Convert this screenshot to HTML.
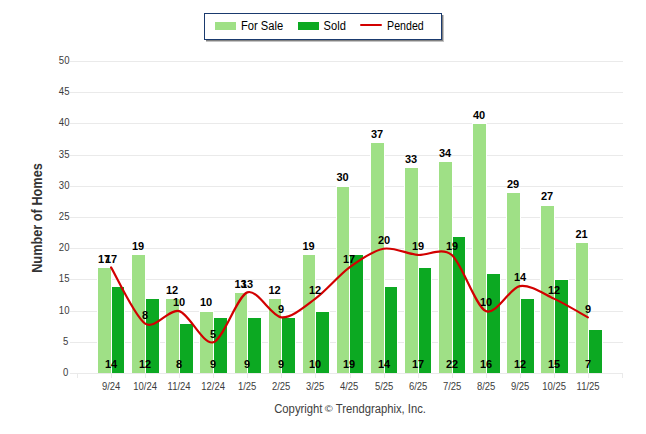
<!DOCTYPE html><html><head><meta charset="utf-8"><style>html,body{margin:0;padding:0;background:#fff;}svg{display:block;}text{font-family:"Liberation Sans",sans-serif;}</style></head><body>
<svg width="646" height="434" viewBox="0 0 646 434">
<rect x="0" y="0" width="646" height="434" fill="#fff"/>
<g shape-rendering="crispEdges"><rect x="70" y="373" width="553" height="1" fill="#eaeaea"/><rect x="70" y="342" width="553" height="1" fill="#eaeaea"/><rect x="70" y="311" width="553" height="1" fill="#eaeaea"/><rect x="70" y="279" width="553" height="1" fill="#eaeaea"/><rect x="70" y="248" width="553" height="1" fill="#eaeaea"/><rect x="70" y="217" width="553" height="1" fill="#eaeaea"/><rect x="70" y="186" width="553" height="1" fill="#eaeaea"/><rect x="70" y="155" width="553" height="1" fill="#eaeaea"/><rect x="70" y="123" width="553" height="1" fill="#eaeaea"/><rect x="70" y="92" width="553" height="1" fill="#eaeaea"/><rect x="70" y="61" width="553" height="1" fill="#eaeaea"/><rect x="77" y="373" width="1" height="5" fill="#eaeaea"/><rect x="111" y="373" width="1" height="5" fill="#eaeaea"/><rect x="145" y="373" width="1" height="5" fill="#eaeaea"/><rect x="179" y="373" width="1" height="5" fill="#eaeaea"/><rect x="213" y="373" width="1" height="5" fill="#eaeaea"/><rect x="247" y="373" width="1" height="5" fill="#eaeaea"/><rect x="281" y="373" width="1" height="5" fill="#eaeaea"/><rect x="315" y="373" width="1" height="5" fill="#eaeaea"/><rect x="350" y="373" width="1" height="5" fill="#eaeaea"/><rect x="384" y="373" width="1" height="5" fill="#eaeaea"/><rect x="418" y="373" width="1" height="5" fill="#eaeaea"/><rect x="452" y="373" width="1" height="5" fill="#eaeaea"/><rect x="486" y="373" width="1" height="5" fill="#eaeaea"/><rect x="520" y="373" width="1" height="5" fill="#eaeaea"/><rect x="554" y="373" width="1" height="5" fill="#eaeaea"/><rect x="588" y="373" width="1" height="5" fill="#eaeaea"/><rect x="622" y="373" width="1" height="5" fill="#eaeaea"/></g>
<text x="68.3" y="376" text-anchor="end" font-size="11" textLength="5.32" lengthAdjust="spacingAndGlyphs" fill="#3c3c3c">0</text><text x="68.3" y="345" text-anchor="end" font-size="11" textLength="5.32" lengthAdjust="spacingAndGlyphs" fill="#3c3c3c">5</text><text x="69.5" y="314" text-anchor="end" font-size="11" textLength="10.64" lengthAdjust="spacingAndGlyphs" fill="#3c3c3c">10</text><text x="69.5" y="282" text-anchor="end" font-size="11" textLength="10.64" lengthAdjust="spacingAndGlyphs" fill="#3c3c3c">15</text><text x="69.5" y="251" text-anchor="end" font-size="11" textLength="10.64" lengthAdjust="spacingAndGlyphs" fill="#3c3c3c">20</text><text x="69.5" y="220" text-anchor="end" font-size="11" textLength="10.64" lengthAdjust="spacingAndGlyphs" fill="#3c3c3c">25</text><text x="69.5" y="189" text-anchor="end" font-size="11" textLength="10.64" lengthAdjust="spacingAndGlyphs" fill="#3c3c3c">30</text><text x="69.5" y="158" text-anchor="end" font-size="11" textLength="10.64" lengthAdjust="spacingAndGlyphs" fill="#3c3c3c">35</text><text x="69.5" y="126" text-anchor="end" font-size="11" textLength="10.64" lengthAdjust="spacingAndGlyphs" fill="#3c3c3c">40</text><text x="69.5" y="95" text-anchor="end" font-size="11" textLength="10.64" lengthAdjust="spacingAndGlyphs" fill="#3c3c3c">45</text><text x="69.5" y="64" text-anchor="end" font-size="11" textLength="10.64" lengthAdjust="spacingAndGlyphs" fill="#3c3c3c">50</text>
<g shape-rendering="crispEdges"><rect x="97" y="267" width="15" height="106" fill="#fff"/><rect x="98" y="268" width="13" height="105" fill="#9fe086"/><rect x="111" y="286" width="14" height="87" fill="#fff"/><rect x="112" y="287" width="12" height="86" fill="#0ca922"/><rect x="131" y="254" width="15" height="119" fill="#fff"/><rect x="132" y="255" width="13" height="118" fill="#9fe086"/><rect x="145" y="298" width="15" height="75" fill="#fff"/><rect x="146" y="299" width="13" height="74" fill="#0ca922"/><rect x="165" y="298" width="15" height="75" fill="#fff"/><rect x="166" y="299" width="13" height="74" fill="#9fe086"/><rect x="179" y="323" width="15" height="50" fill="#fff"/><rect x="180" y="324" width="13" height="49" fill="#0ca922"/><rect x="199" y="311" width="15" height="62" fill="#fff"/><rect x="200" y="312" width="13" height="61" fill="#9fe086"/><rect x="213" y="317" width="15" height="56" fill="#fff"/><rect x="214" y="318" width="13" height="55" fill="#0ca922"/><rect x="234" y="292" width="14" height="81" fill="#fff"/><rect x="235" y="293" width="12" height="80" fill="#9fe086"/><rect x="247" y="317" width="15" height="56" fill="#fff"/><rect x="248" y="318" width="13" height="55" fill="#0ca922"/><rect x="268" y="298" width="14" height="75" fill="#fff"/><rect x="269" y="299" width="12" height="74" fill="#9fe086"/><rect x="281" y="317" width="15" height="56" fill="#fff"/><rect x="282" y="318" width="13" height="55" fill="#0ca922"/><rect x="302" y="254" width="14" height="119" fill="#fff"/><rect x="303" y="255" width="12" height="118" fill="#9fe086"/><rect x="315" y="311" width="15" height="62" fill="#fff"/><rect x="316" y="312" width="13" height="61" fill="#0ca922"/><rect x="336" y="186" width="14" height="187" fill="#fff"/><rect x="337" y="187" width="12" height="186" fill="#9fe086"/><rect x="349" y="254" width="15" height="119" fill="#fff"/><rect x="350" y="255" width="13" height="118" fill="#0ca922"/><rect x="370" y="142" width="15" height="231" fill="#fff"/><rect x="371" y="143" width="13" height="230" fill="#9fe086"/><rect x="384" y="286" width="14" height="87" fill="#fff"/><rect x="385" y="287" width="12" height="86" fill="#0ca922"/><rect x="404" y="167" width="15" height="206" fill="#fff"/><rect x="405" y="168" width="13" height="205" fill="#9fe086"/><rect x="418" y="267" width="14" height="106" fill="#fff"/><rect x="419" y="268" width="12" height="105" fill="#0ca922"/><rect x="438" y="161" width="15" height="212" fill="#fff"/><rect x="439" y="162" width="13" height="211" fill="#9fe086"/><rect x="452" y="236" width="14" height="137" fill="#fff"/><rect x="453" y="237" width="12" height="136" fill="#0ca922"/><rect x="472" y="123" width="15" height="250" fill="#fff"/><rect x="473" y="124" width="13" height="249" fill="#9fe086"/><rect x="486" y="273" width="15" height="100" fill="#fff"/><rect x="487" y="274" width="13" height="99" fill="#0ca922"/><rect x="506" y="192" width="15" height="181" fill="#fff"/><rect x="507" y="193" width="13" height="180" fill="#9fe086"/><rect x="520" y="298" width="15" height="75" fill="#fff"/><rect x="521" y="299" width="13" height="74" fill="#0ca922"/><rect x="540" y="205" width="15" height="168" fill="#fff"/><rect x="541" y="206" width="13" height="167" fill="#9fe086"/><rect x="554" y="279" width="15" height="94" fill="#fff"/><rect x="555" y="280" width="13" height="93" fill="#0ca922"/><rect x="575" y="242" width="14" height="131" fill="#fff"/><rect x="576" y="243" width="12" height="130" fill="#9fe086"/><rect x="588" y="329" width="15" height="44" fill="#fff"/><rect x="589" y="330" width="13" height="43" fill="#0ca922"/></g>
<path d="M111.06,267.42 C116.17,275.84 134.91,317.03 145.12,323.58 C155.34,330.13 168.97,308.29 179.19,311.10 C189.41,313.91 203.03,345.11 213.25,342.30 C223.47,339.49 237.09,296.12 247.31,292.38 C257.53,288.64 271.16,316.40 281.38,317.34 C291.59,318.28 305.22,306.11 315.44,298.62 C325.66,291.13 339.28,274.91 349.50,267.42 C359.72,259.93 373.34,250.57 383.56,248.70 C393.78,246.83 407.41,254.00 417.62,254.94 C427.84,255.88 441.47,246.52 451.69,254.94 C461.91,263.36 475.53,306.42 485.75,311.10 C495.97,315.78 509.59,288.01 519.81,286.14 C530.03,284.27 543.66,293.94 553.88,298.62 C564.09,303.30 582.83,314.53 587.94,317.34" fill="none" stroke="#d20000" stroke-width="2.15" stroke-linejoin="round" stroke-linecap="round"/>
<text x="111.1" y="389.5" text-anchor="middle" font-size="11" textLength="18.41" lengthAdjust="spacingAndGlyphs" fill="#3c3c3c">9/24</text><text x="145.1" y="389.5" text-anchor="middle" font-size="11" textLength="23.67" lengthAdjust="spacingAndGlyphs" fill="#3c3c3c">10/24</text><text x="179.1" y="389.5" text-anchor="middle" font-size="11" textLength="22.97" lengthAdjust="spacingAndGlyphs" fill="#3c3c3c">11/24</text><text x="213.1" y="389.5" text-anchor="middle" font-size="11" textLength="23.67" lengthAdjust="spacingAndGlyphs" fill="#3c3c3c">12/24</text><text x="247.1" y="389.5" text-anchor="middle" font-size="11" textLength="18.41" lengthAdjust="spacingAndGlyphs" fill="#3c3c3c">1/25</text><text x="281.1" y="389.5" text-anchor="middle" font-size="11" textLength="18.41" lengthAdjust="spacingAndGlyphs" fill="#3c3c3c">2/25</text><text x="315.1" y="389.5" text-anchor="middle" font-size="11" textLength="18.41" lengthAdjust="spacingAndGlyphs" fill="#3c3c3c">3/25</text><text x="349.1" y="389.5" text-anchor="middle" font-size="11" textLength="18.41" lengthAdjust="spacingAndGlyphs" fill="#3c3c3c">4/25</text><text x="384.1" y="389.5" text-anchor="middle" font-size="11" textLength="18.41" lengthAdjust="spacingAndGlyphs" fill="#3c3c3c">5/25</text><text x="418.1" y="389.5" text-anchor="middle" font-size="11" textLength="18.41" lengthAdjust="spacingAndGlyphs" fill="#3c3c3c">6/25</text><text x="452.1" y="389.5" text-anchor="middle" font-size="11" textLength="18.41" lengthAdjust="spacingAndGlyphs" fill="#3c3c3c">7/25</text><text x="486.1" y="389.5" text-anchor="middle" font-size="11" textLength="18.41" lengthAdjust="spacingAndGlyphs" fill="#3c3c3c">8/25</text><text x="520.1" y="389.5" text-anchor="middle" font-size="11" textLength="18.41" lengthAdjust="spacingAndGlyphs" fill="#3c3c3c">9/25</text><text x="554.1" y="389.5" text-anchor="middle" font-size="11" textLength="23.67" lengthAdjust="spacingAndGlyphs" fill="#3c3c3c">10/25</text><text x="588.1" y="389.5" text-anchor="middle" font-size="11" textLength="22.97" lengthAdjust="spacingAndGlyphs" fill="#3c3c3c">11/25</text>
<text x="104.0" y="263" text-anchor="middle" font-size="11" font-weight="bold" fill="#000000">17</text><text x="111.1" y="367.5" text-anchor="middle" font-size="11" font-weight="bold" fill="#000000">14</text><text x="111.1" y="263" text-anchor="middle" font-size="11" font-weight="bold" fill="#000000">17</text><text x="138.0" y="250" text-anchor="middle" font-size="11" font-weight="bold" fill="#000000">19</text><text x="145.1" y="367.5" text-anchor="middle" font-size="11" font-weight="bold" fill="#000000">12</text><text x="145.1" y="319" text-anchor="middle" font-size="11" font-weight="bold" fill="#000000">8</text><text x="172.0" y="294" text-anchor="middle" font-size="11" font-weight="bold" fill="#000000">12</text><text x="179.1" y="367.5" text-anchor="middle" font-size="11" font-weight="bold" fill="#000000">8</text><text x="179.1" y="306" text-anchor="middle" font-size="11" font-weight="bold" fill="#000000">10</text><text x="206.0" y="306" text-anchor="middle" font-size="11" font-weight="bold" fill="#000000">10</text><text x="213.1" y="367.5" text-anchor="middle" font-size="11" font-weight="bold" fill="#000000">9</text><text x="213.1" y="338" text-anchor="middle" font-size="11" font-weight="bold" fill="#000000">5</text><text x="240.5" y="288" text-anchor="middle" font-size="11" font-weight="bold" fill="#000000">13</text><text x="247.1" y="367.5" text-anchor="middle" font-size="11" font-weight="bold" fill="#000000">9</text><text x="247.1" y="288" text-anchor="middle" font-size="11" font-weight="bold" fill="#000000">13</text><text x="274.5" y="294" text-anchor="middle" font-size="11" font-weight="bold" fill="#000000">12</text><text x="281.1" y="367.5" text-anchor="middle" font-size="11" font-weight="bold" fill="#000000">9</text><text x="281.1" y="313" text-anchor="middle" font-size="11" font-weight="bold" fill="#000000">9</text><text x="308.5" y="250" text-anchor="middle" font-size="11" font-weight="bold" fill="#000000">19</text><text x="315.1" y="367.5" text-anchor="middle" font-size="11" font-weight="bold" fill="#000000">10</text><text x="315.1" y="294" text-anchor="middle" font-size="11" font-weight="bold" fill="#000000">12</text><text x="342.5" y="181" text-anchor="middle" font-size="11" font-weight="bold" fill="#000000">30</text><text x="349.1" y="367.5" text-anchor="middle" font-size="11" font-weight="bold" fill="#000000">19</text><text x="349.1" y="263" text-anchor="middle" font-size="11" font-weight="bold" fill="#000000">17</text><text x="377.0" y="138" text-anchor="middle" font-size="11" font-weight="bold" fill="#000000">37</text><text x="384.1" y="367.5" text-anchor="middle" font-size="11" font-weight="bold" fill="#000000">14</text><text x="384.1" y="244" text-anchor="middle" font-size="11" font-weight="bold" fill="#000000">20</text><text x="411.0" y="163" text-anchor="middle" font-size="11" font-weight="bold" fill="#000000">33</text><text x="418.1" y="367.5" text-anchor="middle" font-size="11" font-weight="bold" fill="#000000">17</text><text x="418.1" y="250" text-anchor="middle" font-size="11" font-weight="bold" fill="#000000">19</text><text x="445.0" y="157" text-anchor="middle" font-size="11" font-weight="bold" fill="#000000">34</text><text x="452.1" y="367.5" text-anchor="middle" font-size="11" font-weight="bold" fill="#000000">22</text><text x="452.1" y="250" text-anchor="middle" font-size="11" font-weight="bold" fill="#000000">19</text><text x="479.0" y="119" text-anchor="middle" font-size="11" font-weight="bold" fill="#000000">40</text><text x="486.1" y="367.5" text-anchor="middle" font-size="11" font-weight="bold" fill="#000000">16</text><text x="486.1" y="306" text-anchor="middle" font-size="11" font-weight="bold" fill="#000000">10</text><text x="513.0" y="188" text-anchor="middle" font-size="11" font-weight="bold" fill="#000000">29</text><text x="520.1" y="367.5" text-anchor="middle" font-size="11" font-weight="bold" fill="#000000">12</text><text x="520.1" y="281" text-anchor="middle" font-size="11" font-weight="bold" fill="#000000">14</text><text x="547.0" y="200" text-anchor="middle" font-size="11" font-weight="bold" fill="#000000">27</text><text x="554.1" y="367.5" text-anchor="middle" font-size="11" font-weight="bold" fill="#000000">15</text><text x="554.1" y="294" text-anchor="middle" font-size="11" font-weight="bold" fill="#000000">12</text><text x="581.5" y="238" text-anchor="middle" font-size="11" font-weight="bold" fill="#000000">21</text><text x="588.1" y="367.5" text-anchor="middle" font-size="11" font-weight="bold" fill="#000000">7</text><text x="588.1" y="313" text-anchor="middle" font-size="11" font-weight="bold" fill="#000000">9</text>
<text transform="translate(41.6,218) rotate(-90)" text-anchor="middle" font-size="14.5" font-weight="bold" textLength="109.7" lengthAdjust="spacingAndGlyphs" fill="#333">Number of Homes</text>
<g shape-rendering="crispEdges">
<rect x="206" y="15" width="238" height="27" fill="#c4c4c4"/>
<rect x="206" y="15" width="237" height="26" fill="#808080"/>
<rect x="204.5" y="13.5" width="237" height="26" fill="#fff" stroke="#1a3a6e" stroke-width="1"/>
<rect x="215" y="22" width="21" height="8" fill="#9fe086"/>
<rect x="298" y="22" width="21" height="8" fill="#0ca922"/>
</g>
<rect x="360" y="24" width="22" height="2" rx="1" fill="#d20000"/>
<text x="241.0" y="30" font-size="12" textLength="42.2" lengthAdjust="spacingAndGlyphs" fill="#000">For Sale</text>
<text x="323.6" y="30" font-size="12" textLength="22.3" lengthAdjust="spacingAndGlyphs" fill="#000">Sold</text>
<text x="387.1" y="30" font-size="12" textLength="36.6" lengthAdjust="spacingAndGlyphs" fill="#000">Pended</text>
<text x="274.2" y="412.6" font-size="12" textLength="48.3" lengthAdjust="spacingAndGlyphs" fill="#404040">Copyright</text>
<text x="324.8" y="411.8" font-size="9.6" textLength="8" lengthAdjust="spacingAndGlyphs" fill="#404040">©</text>
<text x="335.8" y="412.6" font-size="12" textLength="90.2" lengthAdjust="spacingAndGlyphs" fill="#404040">Trendgraphix, Inc.</text>
</svg></body></html>
